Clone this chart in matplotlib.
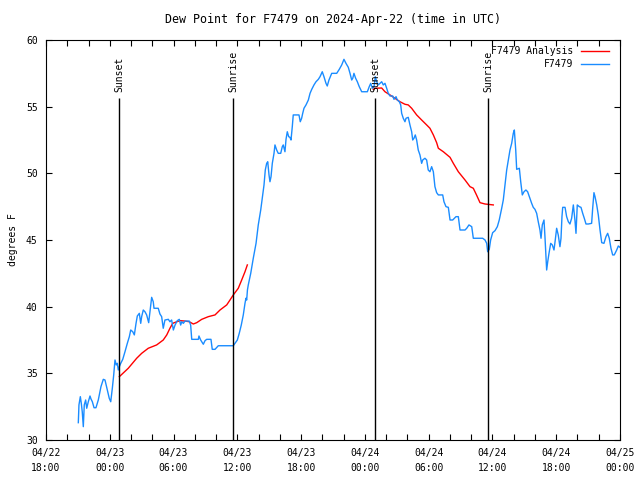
import datetime as dt
import matplotlib
matplotlib.use("Agg")
import matplotlib.pyplot as plt
import matplotlib.dates as mdates
import numpy as np

# %% data (hours after 2024-04-22 18:00 UTC, degrees F)
obs_hours = [3.04, 3.10, 3.23, 3.32, 3.41, 3.51, 3.60, 3.73, 3.83, 3.98, 4.14, 4.23, 4.36, 4.52, 4.70,
             4.92, 5.17, 5.39, 5.55, 5.77, 5.95, 6.09, 6.24, 6.37, 6.49, 6.61, 6.71, 6.80, 6.90, 7.03,
             7.22, 7.43, 7.65, 7.84, 7.97, 8.16, 8.31, 8.47, 8.59, 8.78, 8.91, 9.00, 9.15, 9.31, 9.47,
             9.66, 9.78, 9.94, 10.09, 10.16, 10.56, 10.72, 10.88, 11.03, 11.19, 11.51, 11.66, 11.82,
             11.98, 12.14, 12.35, 12.54, 12.67, 12.77, 12.92, 13.08, 13.48, 13.61, 13.71, 14.33, 14.39,
             14.55, 14.70, 14.80, 14.96, 15.12, 15.52, 15.64, 15.90, 16.21, 17.62, 17.78, 18.00, 18.18,
             18.37, 18.56, 18.72, 18.81, 18.88, 18.95, 19.03, 19.26, 19.50, 19.76, 19.97, 20.20, 20.39,
             20.51, 20.63, 20.76, 20.86, 20.98, 21.07, 21.17, 21.29, 21.45, 21.54, 21.70, 21.85, 22.08,
             22.23, 22.32, 22.48, 22.58, 22.70, 22.83, 22.95, 23.05, 23.17, 23.26, 23.80, 23.92, 24.05,
             24.15, 24.27, 24.46, 24.68, 24.84, 25.00, 25.21, 25.40, 25.62, 25.78, 25.99, 26.15, 26.34,
             26.46, 26.62, 26.88, 27.35, 27.59, 27.82, 28.03, 28.22, 28.44, 28.60, 28.76, 28.86, 28.97,
             29.13, 29.29, 29.47, 29.70, 30.23, 30.41, 30.55, 30.70, 30.86, 30.98, 31.11, 31.26, 31.42,
             31.58, 31.73, 31.89, 32.05, 32.20, 32.36, 32.62, 32.74, 32.93, 33.05, 33.24, 33.37, 33.46,
             33.61, 33.77, 33.87, 34.08, 34.24, 34.40, 34.50, 34.62, 34.74, 34.87, 35.02, 35.18, 35.34,
             35.44, 35.65, 35.81, 35.96, 36.12, 36.28, 36.44, 36.59, 36.75, 36.91, 37.32, 37.44, 37.63,
             37.85, 38.01, 38.26, 38.57, 38.79, 38.95, 39.42, 39.58, 39.79, 40.05, 40.20, 41.08, 41.30,
             41.46, 41.55, 41.70, 41.83, 42.02, 42.24, 42.46, 42.64, 42.87, 43.02, 43.18, 43.34, 43.49,
             43.65, 43.81, 43.96, 44.06, 44.19, 44.28, 44.53, 44.66, 44.81, 44.97, 45.15, 45.31, 45.47,
             45.69, 45.84, 46.00, 46.16, 46.31, 46.47, 46.57, 46.69, 46.85, 46.94, 47.10, 47.20, 47.32,
             47.48, 47.63, 47.79, 47.91, 48.04, 48.19, 48.35, 48.45, 48.54, 48.61, 48.83, 48.98, 49.14,
             49.29, 49.45, 49.61, 49.76, 49.86, 49.98, 50.17, 50.33, 50.49, 50.64, 50.80, 51.02, 51.33,
             51.43, 51.55, 51.65, 51.81, 51.96, 52.12, 52.28, 52.49, 52.68, 52.84, 52.99, 53.15, 53.31,
             53.46, 53.69, 53.84, 54.00]
obs_dewp = [31.30, 32.63, 33.25, 32.75, 32.12, 31.00, 32.63, 33.00, 32.38, 32.87, 33.30, 33.08, 32.87, 32.42, 32.42,
            33.00, 34.00, 34.55, 34.50, 33.75, 33.13, 32.87, 33.88, 34.88, 36.00, 35.63, 35.75, 35.25, 35.50, 35.75,
            36.05, 36.62, 37.25, 37.75, 38.25, 38.12, 37.88, 38.75, 39.30, 39.50, 38.75, 39.25, 39.75, 39.62, 39.38,
            38.80, 39.62, 40.70, 40.37, 39.88, 39.88, 39.45, 39.25, 38.38, 39.00, 39.05, 38.87, 39.00,
            38.25, 38.62, 38.95, 39.05, 38.62, 38.87, 38.75, 38.92, 38.92, 38.62, 37.55, 37.55, 37.80,
            37.50, 37.30, 37.18, 37.45, 37.55, 37.55, 36.80, 36.80, 37.07, 37.07, 37.25, 37.50, 38.00,
            38.62, 39.38, 40.25, 40.63, 40.50, 41.25, 41.63, 42.50, 43.63, 44.75, 46.13, 47.25, 48.38,
            49.13, 50.25, 50.75, 50.87, 49.88, 49.37, 49.75, 50.75, 51.50, 52.13, 51.75, 51.50, 51.50,
            52.00, 52.13, 51.62, 52.55, 53.12, 52.75, 52.70, 52.50, 53.50, 54.38, 54.38, 53.87, 54.13,
            54.50, 54.88, 55.13, 55.50, 56.00, 56.30, 56.63, 56.87, 57.05, 57.25, 57.62, 57.25, 56.75,
            56.55, 57.00, 57.50, 57.50, 57.80, 58.13, 58.55, 58.25, 57.95, 57.50, 57.00, 57.13, 57.50,
            57.13, 56.87, 56.50, 56.12, 56.12, 56.50, 56.75, 56.38, 56.50, 57.25, 56.87, 56.63, 56.75,
            56.87, 56.63, 56.75, 56.38, 56.00, 55.80, 55.80, 55.55, 55.75, 55.50, 55.37, 55.13, 54.50,
            54.13, 53.87, 54.13, 54.20, 53.63, 53.12, 52.50, 52.63, 52.88, 52.50, 51.75, 51.38, 50.75,
            51.00, 51.13, 51.00, 50.25, 50.12, 50.50, 50.12, 49.00, 48.55, 48.38, 48.38, 47.87, 47.50,
            47.45, 46.50, 46.50, 46.75, 46.75, 45.75, 45.75, 45.88, 46.13, 46.00, 45.13, 45.13, 45.00,
            44.75, 44.12, 44.30, 45.00, 45.55, 45.70, 46.00, 46.50, 47.38, 48.00, 49.13, 50.25, 51.00,
            51.75, 52.25, 53.00, 53.25, 51.75, 50.30, 50.38, 49.37, 48.38, 48.62, 48.75, 48.62, 48.25,
            47.75, 47.45, 47.30, 47.00, 46.37, 45.75, 45.13, 46.13, 46.50, 45.25, 42.75, 43.37, 44.00,
            44.75, 44.63, 44.25, 45.00, 45.88, 45.38, 44.50, 45.13, 46.75, 47.45, 47.45, 46.75, 46.37,
            46.20, 46.63, 47.63, 46.50, 45.50, 47.63, 47.50, 47.45, 47.00, 46.63, 46.20, 46.20, 46.25,
            47.38, 48.55, 48.25, 47.63, 46.87, 45.75, 44.80, 44.75, 45.25, 45.50, 45.13, 44.38, 43.88,
            43.88, 44.25, 44.55, 44.45]

ana_hours = [6.90, 7.74, 8.53, 9.00, 9.62, 10.41, 11.03, 11.36, 11.66, 11.92, 12.30, 12.61, 13.08,
             13.48, 13.86, 14.18, 14.65, 15.27, 15.90, 16.37, 17.00, 17.31, 17.62, 18.09, 18.41,
             18.72, 18.94,
             19.0,
             30.79, 30.95, 31.58, 31.89, 32.36, 32.83, 33.30, 33.77, 34.08, 34.40, 34.87, 35.34,
             35.81, 36.12, 36.44, 36.75, 36.91, 37.38, 38.01, 38.32, 38.79, 39.42, 39.89, 40.20,
             40.50, 40.83, 41.30, 42.08]
ana_dewp = [34.75, 35.38, 36.13, 36.50, 36.88, 37.13, 37.50, 37.88, 38.38, 38.75, 38.87, 38.95, 38.92,
            38.87, 38.70, 38.80, 39.05, 39.25, 39.38, 39.75, 40.13, 40.50, 40.88, 41.38, 42.00,
            42.62, 43.13,
            np.nan,
            56.30, 56.38, 56.40, 56.12, 55.88, 55.63, 55.37, 55.18, 55.13, 54.88, 54.38, 54.00,
            53.63, 53.38, 52.88, 52.30, 51.88, 51.62, 51.20, 50.75, 50.12, 49.50, 49.00, 48.88,
            48.38, 47.80, 47.70, 47.63]

sun_labels = ["Sunset", "Sunrise", "Sunset", "Sunrise"]
sun_times = ["2024-04-23 00:52", "2024-04-23 11:35", "2024-04-24 00:57", "2024-04-24 11:35"]

# %% plot
start = dt.datetime(2024, 4, 22, 18, 0)
to_time = lambda hrs: [start + dt.timedelta(hours=h) for h in hrs]

plt.rcParams["font.family"] = "DejaVu Sans Mono"
plt.rcParams["font.size"] = 7

fig = plt.figure(figsize=(6.4, 4.8), dpi=100)
ax = fig.add_axes([46 / 640, 40 / 480, 574 / 640, 400 / 480])

ax.plot(to_time(ana_hours), ana_dewp, color="#ff0000", lw=1.0, label="F7479 Analysis")
ax.plot(to_time(obs_hours), obs_dewp, color="#1a8cff", lw=1.0, label="F7479")

for lab, t in zip(sun_labels, sun_times):
    t = dt.datetime.strptime(t, "%Y-%m-%d %H:%M")
    ax.vlines(t, 30, 55.65, color="black", lw=1.0)
    ax.text(t, 56.1, lab, rotation=90, ha="center", va="bottom")

ax.set_xlim(start, dt.datetime(2024, 4, 25, 0, 0))
ax.set_ylim(30, 60)
ax.set_yticks(range(30, 61, 5))
ax.xaxis.set_major_locator(mdates.HourLocator(byhour=[0, 6, 12, 18]))
ax.xaxis.set_minor_locator(mdates.HourLocator(interval=2))
ax.xaxis.set_major_formatter(mdates.DateFormatter("%m/%d\n%H:%M"))
ax.tick_params(which="both", direction="in", top=True, right=True, length=4, width=0.8, pad=6)
for lbl in ax.get_xticklabels():
    lbl.set_linespacing(1.55)
for s in ax.spines.values():
    s.set_linewidth(0.8)

ax.set_ylabel("degrees F", labelpad=6)
ax.set_title("Dew Point for F7479 on 2024-Apr-22 (time in UTC)", pad=12)
ax.legend(loc="upper right", bbox_to_anchor=((609 - 46) / 574, 1 - 6 / 400), markerfirst=False,
          frameon=False, handlelength=2.9, borderaxespad=0, borderpad=0, labelspacing=0.35,
          handletextpad=0.8)

fig.savefig("out.png", dpi=100)
